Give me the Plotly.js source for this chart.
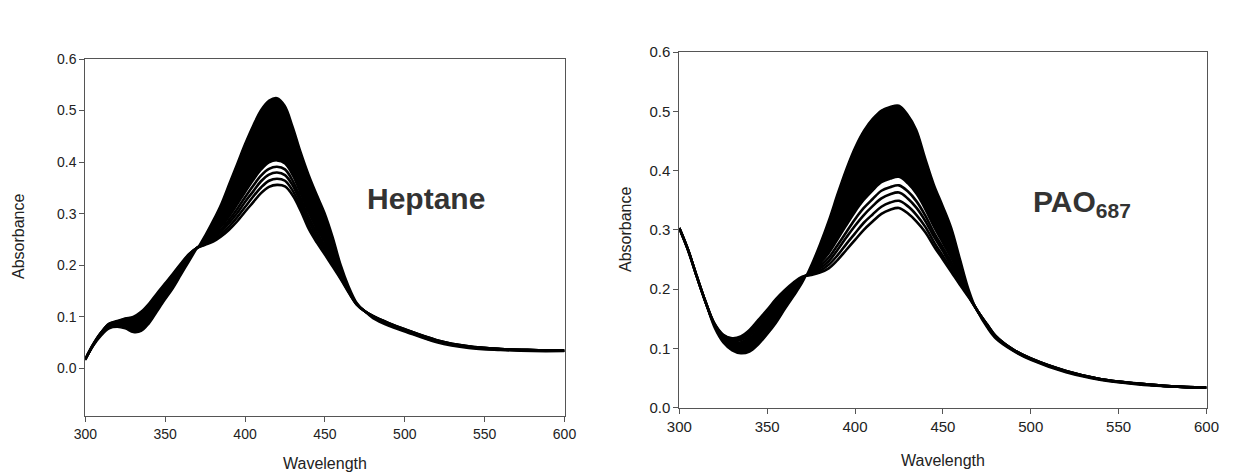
<!DOCTYPE html>
<html>
<head>
<meta charset="utf-8">
<script src="https://cdn.plot.ly/plotly-3.0.1.min.js"></script>
<style>html,body{margin:0;padding:0;background:#fff;}#chart{width:1241px;height:474px;}</style>
</head>
<body>
<div id="chart"></div>
<script>
// Wavelength grid (nm)
const wavelengths = [300,305,310,315,320,325,330,335,340,345,350,355,360,365,370,375,380,385,390,395,400,405,410,415,420,425,430,435,440,445,450,455,460,465,470,475,480,490,500,520,540,560,580,600];

// Heptane spectra: first (highest peak), dense-edge, three visible lower spectra, last (lowest peak)
const heptFirst = [0.016,0.043,0.063,0.077,0.080,0.077,0.070,0.072,0.087,0.110,0.133,0.155,0.181,0.207,0.233,0.259,0.288,0.320,0.359,0.398,0.437,0.472,0.502,0.520,0.525,0.510,0.469,0.420,0.376,0.338,0.302,0.256,0.202,0.160,0.128,0.110,0.097,0.082,0.071,0.050,0.039,0.035,0.033,0.033];
const heptMid   = [0.017,0.046,0.068,0.084,0.089,0.091,0.092,0.099,0.115,0.136,0.156,0.176,0.198,0.218,0.234,0.245,0.258,0.274,0.294,0.317,0.341,0.364,0.385,0.399,0.403,0.397,0.373,0.337,0.300,0.270,0.244,0.214,0.181,0.151,0.125,0.111,0.101,0.086,0.075,0.054,0.042,0.037,0.035,0.034];
const hept2     = [0.018,0.046,0.069,0.085,0.089,0.093,0.094,0.102,0.118,0.138,0.158,0.178,0.199,0.219,0.234,0.244,0.255,0.269,0.288,0.309,0.332,0.354,0.374,0.387,0.391,0.386,0.363,0.329,0.292,0.264,0.238,0.209,0.179,0.150,0.125,0.111,0.101,0.087,0.075,0.054,0.042,0.037,0.035,0.035];
const hept3     = [0.018,0.046,0.069,0.086,0.090,0.094,0.096,0.105,0.121,0.141,0.161,0.180,0.201,0.220,0.234,0.243,0.252,0.265,0.282,0.301,0.323,0.343,0.363,0.376,0.380,0.375,0.354,0.321,0.285,0.257,0.232,0.205,0.177,0.149,0.125,0.111,0.101,0.087,0.075,0.054,0.042,0.038,0.036,0.035];
const hept4     = [0.018,0.047,0.070,0.086,0.091,0.096,0.098,0.107,0.123,0.143,0.163,0.182,0.202,0.221,0.234,0.241,0.249,0.260,0.275,0.293,0.313,0.333,0.351,0.364,0.368,0.364,0.344,0.313,0.277,0.251,0.227,0.201,0.175,0.148,0.124,0.111,0.102,0.088,0.076,0.055,0.043,0.038,0.036,0.035];
const heptLast  = [0.018,0.047,0.070,0.087,0.092,0.097,0.100,0.110,0.126,0.146,0.165,0.184,0.204,0.222,0.234,0.240,0.246,0.256,0.269,0.285,0.304,0.322,0.340,0.352,0.356,0.353,0.335,0.305,0.270,0.244,0.221,0.197,0.173,0.147,0.124,0.111,0.102,0.088,0.076,0.055,0.043,0.038,0.036,0.035];

// PAO687 spectra
const paoFirst = [0.303,0.266,0.221,0.176,0.134,0.109,0.096,0.091,0.094,0.106,0.123,0.142,0.165,0.187,0.210,0.241,0.277,0.317,0.362,0.404,0.440,0.468,0.488,0.502,0.508,0.510,0.495,0.469,0.422,0.377,0.341,0.303,0.250,0.198,0.160,0.135,0.116,0.095,0.080,0.059,0.046,0.039,0.035,0.033];
const paoMid   = [0.303,0.266,0.221,0.177,0.140,0.119,0.111,0.111,0.120,0.135,0.152,0.171,0.188,0.204,0.218,0.229,0.243,0.260,0.283,0.307,0.330,0.350,0.366,0.380,0.386,0.389,0.378,0.360,0.334,0.304,0.277,0.250,0.219,0.189,0.161,0.139,0.119,0.097,0.082,0.061,0.047,0.040,0.036,0.034];
const pao2     = [0.303,0.266,0.221,0.178,0.140,0.120,0.112,0.114,0.123,0.139,0.156,0.174,0.191,0.206,0.219,0.228,0.239,0.253,0.274,0.296,0.318,0.337,0.352,0.366,0.372,0.375,0.365,0.348,0.324,0.295,0.270,0.244,0.216,0.188,0.162,0.140,0.120,0.097,0.082,0.061,0.048,0.041,0.036,0.034];
const pao3     = [0.303,0.266,0.221,0.178,0.141,0.121,0.114,0.116,0.125,0.142,0.159,0.177,0.193,0.207,0.219,0.227,0.235,0.247,0.266,0.287,0.307,0.325,0.340,0.353,0.360,0.363,0.353,0.337,0.315,0.288,0.264,0.238,0.213,0.187,0.162,0.140,0.120,0.098,0.083,0.062,0.048,0.041,0.036,0.034];
const pao4     = [0.303,0.266,0.221,0.178,0.141,0.122,0.116,0.118,0.128,0.145,0.162,0.180,0.196,0.209,0.220,0.225,0.231,0.241,0.257,0.276,0.294,0.312,0.326,0.339,0.346,0.349,0.340,0.325,0.305,0.279,0.256,0.232,0.209,0.186,0.162,0.141,0.121,0.098,0.083,0.062,0.048,0.041,0.036,0.034];
const paoLast  = [0.303,0.266,0.221,0.178,0.142,0.123,0.117,0.120,0.131,0.148,0.165,0.183,0.198,0.211,0.221,0.224,0.228,0.235,0.249,0.266,0.283,0.300,0.314,0.327,0.334,0.337,0.328,0.314,0.296,0.272,0.250,0.228,0.206,0.185,0.162,0.141,0.121,0.098,0.083,0.062,0.048,0.041,0.036,0.034];

// Axis ticks
const xTicks = [300,350,400,450,500,550,600];
const yTicks = [0,0.1,0.2,0.3,0.4,0.5,0.6];
const yTickText = ['0.0','0.1','0.2','0.3','0.4','0.5','0.6'];

const FONT = 'Liberation Sans, Arial, sans-serif';

function family(first, mid, lowers, xa, ya) {
  const tr = [];
  const ln = (w) => ({color: '#000', width: w, shape: 'spline', smoothing: 1});
  tr.push({x: wavelengths, y: first, xaxis: xa, yaxis: ya, mode: 'lines', type: 'scatter', line: ln(1.6), hoverinfo: 'skip'});
  tr.push({x: wavelengths, y: mid, xaxis: xa, yaxis: ya, mode: 'lines', type: 'scatter', fill: 'tonexty', fillcolor: '#000',
    line: ln(2), hoverinfo: 'skip'});
  lowers.forEach(s => tr.push({x: wavelengths, y: s, xaxis: xa, yaxis: ya, mode: 'lines', type: 'scatter', line: ln(2.6), hoverinfo: 'skip'}));
  return tr;
}

const traces = [].concat(
  family(heptFirst, heptMid, [hept2, hept3, hept4, heptLast], 'x', 'y'),
  family(paoFirst, paoMid, [pao2, pao3, pao4, paoLast], 'x2', 'y2')
);

function axisStyle(fs) {
  return {showline: true, mirror: true, linecolor: '#555', linewidth: 1, ticks: 'outside', ticklen: 5,
    tickcolor: '#555', tickwidth: 1, showgrid: false, zeroline: false,
    tickfont: {family: FONT, size: fs, color: '#222'}};
}

const W = 1241, H = 474;
const layout = {
  width: W, height: H, margin: {l: 0, r: 0, t: 0, b: 0},
  paper_bgcolor: '#fff', plot_bgcolor: '#fff', showlegend: false,
  xaxis: Object.assign(axisStyle(14), {domain: [85.3/W, 564.5/W], anchor: 'y', range: [300, 600], tickvals: xTicks}),
  yaxis: Object.assign(axisStyle(14), {domain: [1 - 416/H, 1 - 59/H], anchor: 'x', range: [-0.092, 0.6], tickvals: yTicks, ticktext: yTickText}),
  xaxis2: Object.assign(axisStyle(15), {domain: [679.3/W, 1206.5/W], anchor: 'y2', range: [300, 600], tickvals: xTicks}),
  yaxis2: Object.assign(axisStyle(15), {domain: [1 - 407.7/H, 1 - 52/H], anchor: 'x2', range: [0, 0.6], tickvals: yTicks, ticktext: yTickText}),
  annotations: [
    {text: 'Absorbance', xref: 'paper', yref: 'paper', x: 18/W, y: 1 - 237/H, textangle: -90, showarrow: false,
      xanchor: 'center', yanchor: 'middle', font: {family: FONT, size: 16, color: '#222'}},
    {text: 'Absorbance', xref: 'paper', yref: 'paper', x: 625/W, y: 1 - 230/H, textangle: -90, showarrow: false,
      xanchor: 'center', yanchor: 'middle', font: {family: FONT, size: 16, color: '#222'}},
    {text: 'Wavelength', xref: 'paper', yref: 'paper', x: 325/W, y: 1 - 463/H, showarrow: false,
      xanchor: 'center', yanchor: 'middle', font: {family: FONT, size: 16, color: '#222'}},
    {text: 'Wavelength', xref: 'paper', yref: 'paper', x: 943/W, y: 1 - 460/H, showarrow: false,
      xanchor: 'center', yanchor: 'middle', font: {family: FONT, size: 16, color: '#222'}},
    {text: 'Heptane', xref: 'paper', yref: 'paper', x: 426/W, y: 1 - 198/H, showarrow: false,
      xanchor: 'center', yanchor: 'middle', font: {family: FONT, size: 30, color: '#333', weight: 'bold'}},
    {text: 'PAO<sub>687</sub>', xref: 'paper', yref: 'paper', x: 1031/W, y: 1 - 203/H, showarrow: false,
      xanchor: 'left', yanchor: 'middle', font: {family: FONT, size: 30, color: '#333', weight: 'bold'}}
  ]
};

Plotly.newPlot('chart', traces, layout, {staticPlot: true, displayModeBar: false});
</script>
</body>
</html>
